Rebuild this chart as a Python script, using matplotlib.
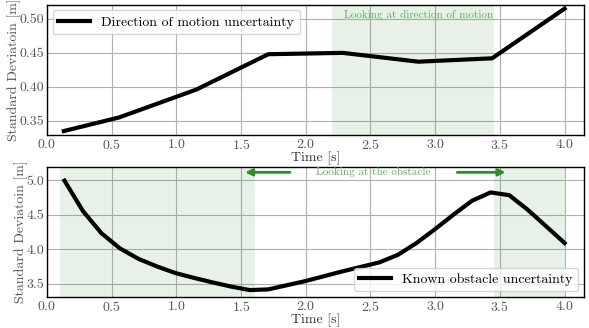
import matplotlib
matplotlib.use("Agg")
import matplotlib.pyplot as plt

plt.rcParams['font.family'] = 'serif'
plt.rcParams['font.serif'] = ['cmr10', 'DejaVu Serif']
plt.rcParams['mathtext.fontset'] = 'cm'
plt.rcParams['axes.formatter.use_mathtext'] = True
plt.rcParams['axes.unicode_minus'] = False

# Top: direction of motion uncertainty
t_dir = [0.13, 0.557, 1.154, 1.71, 2.285, 2.87, 3.44, 4.0]
std_dir = [0.335, 0.355, 0.396, 0.448, 0.450, 0.437, 0.442, 0.515]
dir_span = (2.2, 3.456)

# Bottom: known obstacle uncertainty
t_obs = [0.135, 0.278, 0.421, 0.565, 0.708, 0.851, 0.994, 1.138, 1.281, 1.424,
         1.567, 1.710, 1.854, 1.997, 2.140, 2.283, 2.426, 2.569, 2.713, 2.856,
         2.999, 3.142, 3.285, 3.428, 3.572, 3.715, 3.858, 4.0]
std_obs = [4.99, 4.55, 4.23, 4.01, 3.86, 3.75, 3.655, 3.585, 3.52, 3.46,
           3.41, 3.42, 3.48, 3.54, 3.61, 3.68, 3.745, 3.81, 3.92, 4.09,
           4.29, 4.50, 4.70, 4.82, 4.78, 4.57, 4.33, 4.09]
obs_spans = [(0.1, 1.607), (3.456, 4.0)]

xticks = [0.0, 0.5, 1.0, 1.5, 2.0, 2.5, 3.0, 3.5, 4.0]

fig = plt.figure(figsize=(5.89, 3.28), dpi=100)
ax1 = fig.add_axes([0.0798, 0.588, 0.9117, 0.397])
ax2 = fig.add_axes([0.0798, 0.0945, 0.9117, 0.397])

green_txt = '#5aae5a'
span_col = (0.2, 0.55, 0.2, 0.115)

def style(ax):
    ax.grid(True, color='#b0b0b0', linewidth=0.8)
    ax.set_axisbelow(True)
    ax.tick_params(length=0, colors='#555555', labelsize=10, pad=2)
    for s in ax.spines.values():
        s.set_color('black')
        s.set_linewidth(1.0)
    ax.set_xticks(xticks)
    ax.set_xlim(0.0, 4.15)
    ax.set_xlabel('Time [s]', labelpad=0, color='#333333', fontsize=10)
    ax.set_ylabel('Standard Deviatoin [m]', labelpad=-1, color='#555555', fontsize=10)

ax1.axvspan(*dir_span, color=span_col, linewidth=0)
ax1.plot(t_dir, std_dir, color='black', linewidth=3, label='Direction of motion uncertainty')
ax1.set_ylim(0.329, 0.5205)
ax1.set_yticks([0.35, 0.40, 0.45, 0.50])
ax1.set_yticklabels(['0.35', '0.40', '0.45', '0.50'])
ax1.text(2.87, 0.506, 'Looking at direction of motion', color=green_txt,
         ha='center', va='center', fontsize=8)
ax1.legend(loc='upper left', fontsize=10, framealpha=0.8, edgecolor='#cccccc',
           handlelength=2.3, borderaxespad=0.4)
style(ax1)

for sp in obs_spans:
    ax2.axvspan(*sp, color=span_col, linewidth=0)
ax2.plot(t_obs, std_obs, color='black', linewidth=3, label='Known obstacle uncertainty')
ax2.set_ylim(3.31, 5.19)
ax2.set_yticks([3.5, 4.0, 4.5, 5.0])
ax2.set_yticklabels(['3.5', '4.0', '4.5', '5.0'])
ax2.text(2.52, 5.11, 'Looking at the obstacle', color=green_txt,
         ha='center', va='center', fontsize=8)
arrow = dict(arrowstyle='-|>', color='#2a8f2a', linewidth=2, mutation_scale=10)
ax2.annotate('', xy=(1.51, 5.11), xytext=(1.90, 5.11), arrowprops=arrow)
ax2.annotate('', xy=(3.565, 5.11), xytext=(3.15, 5.11), arrowprops=arrow)
ax2.legend(loc='lower right', fontsize=10, framealpha=0.8, edgecolor='#cccccc',
           handlelength=2.3, borderaxespad=0.4)
style(ax2)

fig.savefig('out.png', dpi=100)
